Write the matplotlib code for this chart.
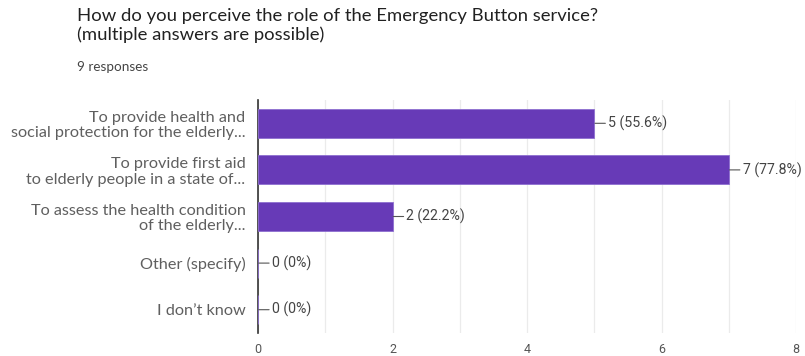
import matplotlib
matplotlib.use("Agg")
import matplotlib.pyplot as plt
import numpy as np

title = "How do you perceive the role of the Emergency Button service?\n(multiple answers are possible)"
subtitle = "9 responses"
categories = [
    "To provide health and\nsocial protection for the elderly...",
    "To provide first aid\nto elderly people in a state of...",
    "To assess the health condition\nof the elderly...",
    "Other (specify)",
    "I don\u2019t know",
]
counts = [5, 7, 2, 0, 0]
pcts = ["55.6%", "77.8%", "22.2%", "0%", "0%"]
xticks = [0, 2, 4, 6, 8]

plt.rcParams["font.family"] = ["Lato", "DejaVu Sans"]

fig = plt.figure(figsize=(8.05, 3.56), dpi=100)
ax = fig.add_axes([258 / 805, 1 - 333 / 356, (796 - 258) / 805, 233 / 356])

y = np.arange(len(categories))
ax.barh(y, counts, height=0.62, color="#673ab7", edgecolor="#8e6fd0", linewidth=0.6, zorder=3)
ax.set_ylim(len(categories) - 0.5, -0.5)
ax.set_xlim(0, 8)

# value labels with a short leader line, like the Google Forms chart
for yi, c, p in zip(y, counts, pcts):
    ax.annotate(f"{c} ({p})", (c, yi), xytext=(10, 0), textcoords="offset points",
                ha="left", va="center", fontsize=10.2, family=["Roboto", "DejaVu Sans"],
                color="#444444", zorder=4,
                arrowprops=dict(arrowstyle="-", color="#555555", lw=0.8,
                                shrinkA=0, shrinkB=0.5))

ax.set_xticks(xticks)
ax.set_xticks(range(0, 9), minor=True)
ax.grid(axis="x", which="both", color="#ebebeb", lw=0.9, zorder=0)
ax.set_yticks(y)
ax.set_yticklabels(categories, fontsize=11.7, color="#5f5f5f", linespacing=1.12)
ax.tick_params(axis="y", length=0, pad=9)
ax.tick_params(axis="x", which="both", length=0, pad=7)
for lab in ax.get_xticklabels():
    lab.set_family(["Roboto", "DejaVu Sans"])
    lab.set_fontsize(9)
    lab.set_color("#555555")
for s in ["top", "right", "bottom"]:
    ax.spines[s].set_visible(False)
ax.spines["left"].set_color("#333333")
ax.spines["left"].set_linewidth(1.2)

fig.text(77 / 805, 1 - 8 / 356, title, ha="left", va="top", fontsize=13.3,
         color="#212121", linespacing=1.2)
fig.text(77 / 805, 1 - 61 / 356, subtitle, ha="left", va="top", fontsize=9.7, color="#444444")

fig.savefig("out.png", dpi=100)
